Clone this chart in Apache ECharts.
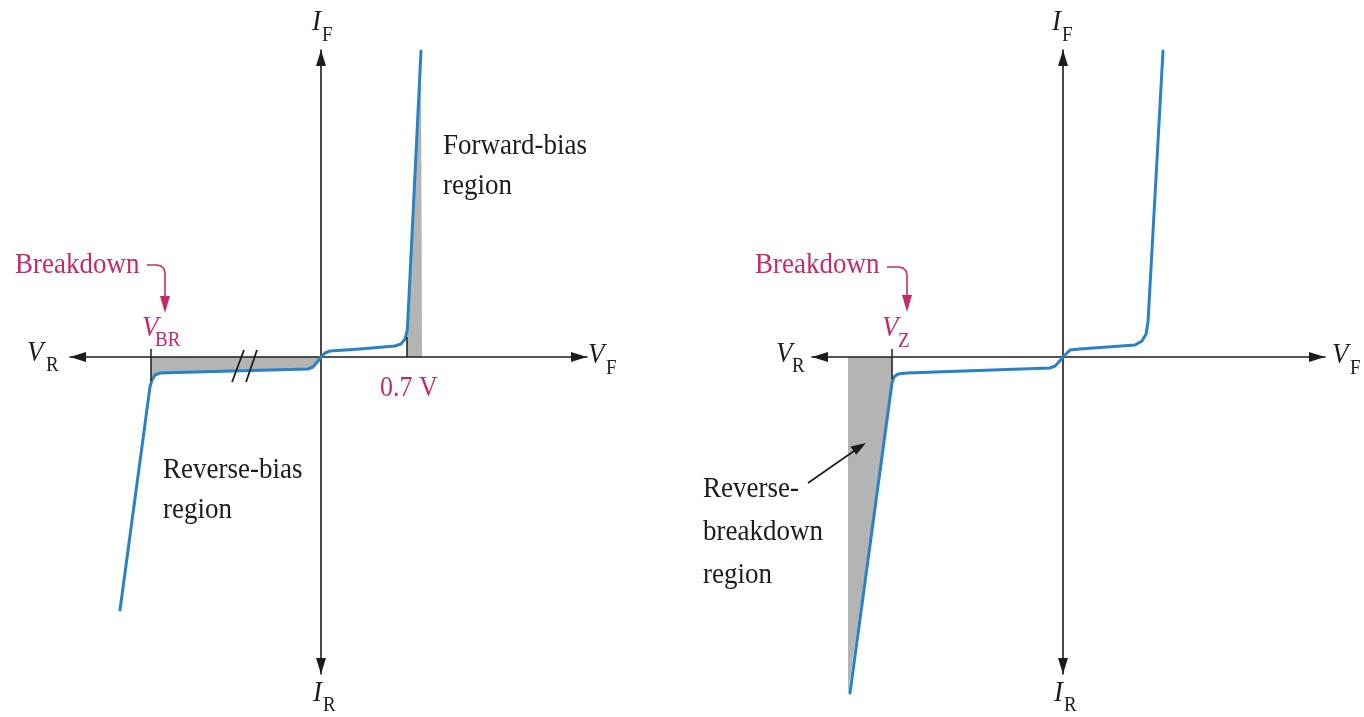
<!DOCTYPE html>
<html>
<head>
<meta charset="utf-8">
<script src="https://cdn.jsdelivr.net/npm/echarts@6/dist/echarts.min.js"></script>
<style>
  html, body { margin: 0; padding: 0; background: #ffffff; }
  #chart { width: 1364px; height: 717px; }
</style>
</head>
<body>
<div id="chart"></div>
<script>
// ---------- DATA (arbitrary schematic units: x = volts-like, y = current-like) ----------
// Left panel: rectifier diode characteristic
const leftCurve = [[-1.636,-25.3],[-1.392,-3.0],[-1.376,-2.3],[-1.351,-1.8],[-1.310,-1.6],[-0.716,-1.4],[-0.106,-1.2],[-0.065,-1.0],[-0.024,-0.4],[0,0],[0.033,0.4],[0.073,0.6],[0.317,0.8],[0.602,1.1],[0.651,1.3],[0.684,1.8],[0.700,2.6],[0.704,3.0],[0.814,30.6]];
const leftForwardShade = [[0.700,0],[0.700,2.6],[0.704,3.0],[0.814,30.6],[0.822,30.6],[0.822,0]];
const leftReverseShade = [[-1.384,0],[-1.384,-2.4],[-1.376,-2.3],[-1.351,-1.8],[-1.310,-1.6],[-0.716,-1.4],[-0.106,-1.2],[-0.065,-1.0],[-0.024,-0.4],[0,0]];
const leftVBR = -1.384;
const leftKnee = 0.70;
const leftTickMarks = [[[leftVBR,0.8],[leftVBR,-2.4]],[[leftKnee,2.0],[leftKnee,0]]];
const leftBreakMarks = [[[-0.724,-2.5],[-0.627,0.7]],[[-0.610,-2.5],[-0.521,0.7]]];
// Right panel: zener diode characteristic
const rightCurve = [[-1.734,-33.6],[-1.392,-2.6],[-1.376,-2.0],[-1.343,-1.7],[-1.270,-1.6],[-0.106,-1.1],[-0.065,-0.9],[-0.033,-0.5],[0,0],[0.057,0.7],[0.138,0.8],[0.586,1.2],[0.643,1.6],[0.676,2.3],[0.692,3.5],[0.814,30.6]];
const rightReverseShade = [[-1.750,0],[-1.750,-33.6],[-1.734,-33.6],[-1.392,-2.6],[-1.392,0]];
const rightVZ = -1.392;
const rightTickMarks = [[[rightVZ,0.8],[rightVZ,-2.2]]];
// Axis extents
const leftX = [-2.043, 2.165];
const rightX = [-2.043, 2.1325];
const yRange = [-31.7, 30.7];

// ---------- STYLE ----------
const BLUE = '#2a82c4';
const GRAY = '#b4b4b4';
const INK = '#1c1c1c';
const MAG = '#c42a6b';
const SERIF = '"Liberation Serif", "DejaVu Serif", serif';

function axis(range, gridIndex) {
  return {
    type: 'value', gridIndex: gridIndex, min: range[0], max: range[1], z: 5,
    axisLine: { show: true, onZero: true, symbol: ['triangle','triangle'], symbolSize: [10,16], symbolOffset: [8,-8],
      lineStyle: { color: INK, width: 1.6 } },
    axisTick: { show: false }, axisLabel: { show: false }, splitLine: { show: false }
  };
}
function curve(data, gi) {
  return { type: 'line', xAxisIndex: gi, yAxisIndex: gi, data: data, showSymbol: false, clip: false, z: 10,
    lineStyle: { color: BLUE, width: 3, cap: 'round', join: 'round' }, silent: true, animation: false };
}
function shade(data, gi) {
  return { type: 'line', xAxisIndex: gi, yAxisIndex: gi, data: data, showSymbol: false, clip: false, z: 1,
    lineStyle: { width: 0, opacity: 0 }, areaStyle: { color: GRAY, opacity: 1 }, silent: true, animation: false };
}
function marks(segs, gi, w) {
  return { type: 'lines', coordinateSystem: 'cartesian2d', xAxisIndex: gi, yAxisIndex: gi, z: 12,
    data: segs.map(s => ({ coords: s })), lineStyle: { color: INK, width: w, opacity: 1 }, silent: true, animation: false };
}
function txt(text, x, y, size, italic, color) {
  return { type: 'text', x: x, y: y, scaleY: 1.12, z: 100, silent: true,
    style: { text: text, fill: color || INK, fontSize: size, fontFamily: SERIF, fontStyle: italic ? 'italic' : 'normal',
      align: 'left', verticalAlign: 'middle' } };
}
function bentArrow(x0, y0, xc, yTip, color) {
  return [
    { type: 'polyline', z: 100, silent: true, shape: { points: [[x0,y0],[xc-8,y0],[xc-4,y0+1],[xc-1,y0+4],[xc,y0+8],[xc,yTip-14]] },
      style: { stroke: color, lineWidth: 1.6, fill: null } },
    { type: 'polygon', z: 100, silent: true, shape: { points: [[xc-5,yTip-17],[xc+5,yTip-17],[xc,yTip]] }, style: { fill: color } }
  ];
}

const graphics = [
  // left panel labels
  txt('I', 312, 22, 27, true), txt('F', 322, 35, 19, false),
  txt('I', 313, 693, 27, true), txt('R', 323, 705, 19, false),
  txt('V', 27, 353, 27, true), txt('R', 46, 365, 19, false),
  txt('V', 588, 355, 27, true), txt('F', 606, 368, 19, false),
  txt('Breakdown', 15, 265, 27, false, MAG),
  txt('V', 142, 328, 27, true, MAG), txt('BR', 155, 340, 19, false, MAG),
  txt('0.7 V', 380, 388, 26, false, MAG),
  txt('Forward-bias', 443, 146, 27, false), txt('region', 443, 186, 27, false),
  txt('Reverse-bias', 163, 470, 27, false), txt('region', 163, 510, 27, false),
  // right panel labels
  txt('I', 1052, 22, 27, true), txt('F', 1062, 35, 19, false),
  txt('I', 1054, 693, 27, true), txt('R', 1064, 705, 19, false),
  txt('V', 776, 354, 27, true), txt('R', 792, 366, 19, false),
  txt('V', 1332, 355, 27, true), txt('F', 1350, 368, 19, false),
  txt('Breakdown', 755, 265, 27, false, MAG),
  txt('V', 882, 328, 27, true, MAG), txt('Z', 898, 341, 19, false, MAG),
  txt('Reverse-', 703, 489, 27, false), txt('breakdown', 703, 532, 27, false), txt('region', 703, 575, 27, false),
  { type: 'line', z: 100, silent: true, shape: { x1: 808, y1: 483, x2: 854, y2: 451 }, style: { stroke: INK, lineWidth: 1.6 } },
  { type: 'polygon', z: 100, silent: true, shape: { points: [[866,443],[850.4,446.6],[856.2,454.8]] }, style: { fill: INK } }
].concat(bentArrow(147, 265, 165, 313, MAG)).concat(bentArrow(887, 267, 907, 312, MAG));

const chart = echarts.init(document.getElementById('chart'), null, { renderer: 'canvas' });
chart.setOption({
  backgroundColor: '#ffffff',
  animation: false,
  grid: [
    { left: 70, top: 50, width: 517, height: 624 },
    { left: 812, top: 50, width: 513, height: 624 }
  ],
  xAxis: [axis(leftX, 0), axis(rightX, 1)],
  yAxis: [axis(yRange, 0), axis(yRange, 1)],
  series: [
    shade(leftForwardShade, 0), shade(leftReverseShade, 0), shade(rightReverseShade, 1),
    curve(leftCurve, 0), curve(rightCurve, 1),
    marks(leftTickMarks, 0, 1.5), marks(leftBreakMarks, 0, 1.8), marks(rightTickMarks, 1, 1.5)
  ],
  graphic: graphics
});
</script>
</body>
</html>
